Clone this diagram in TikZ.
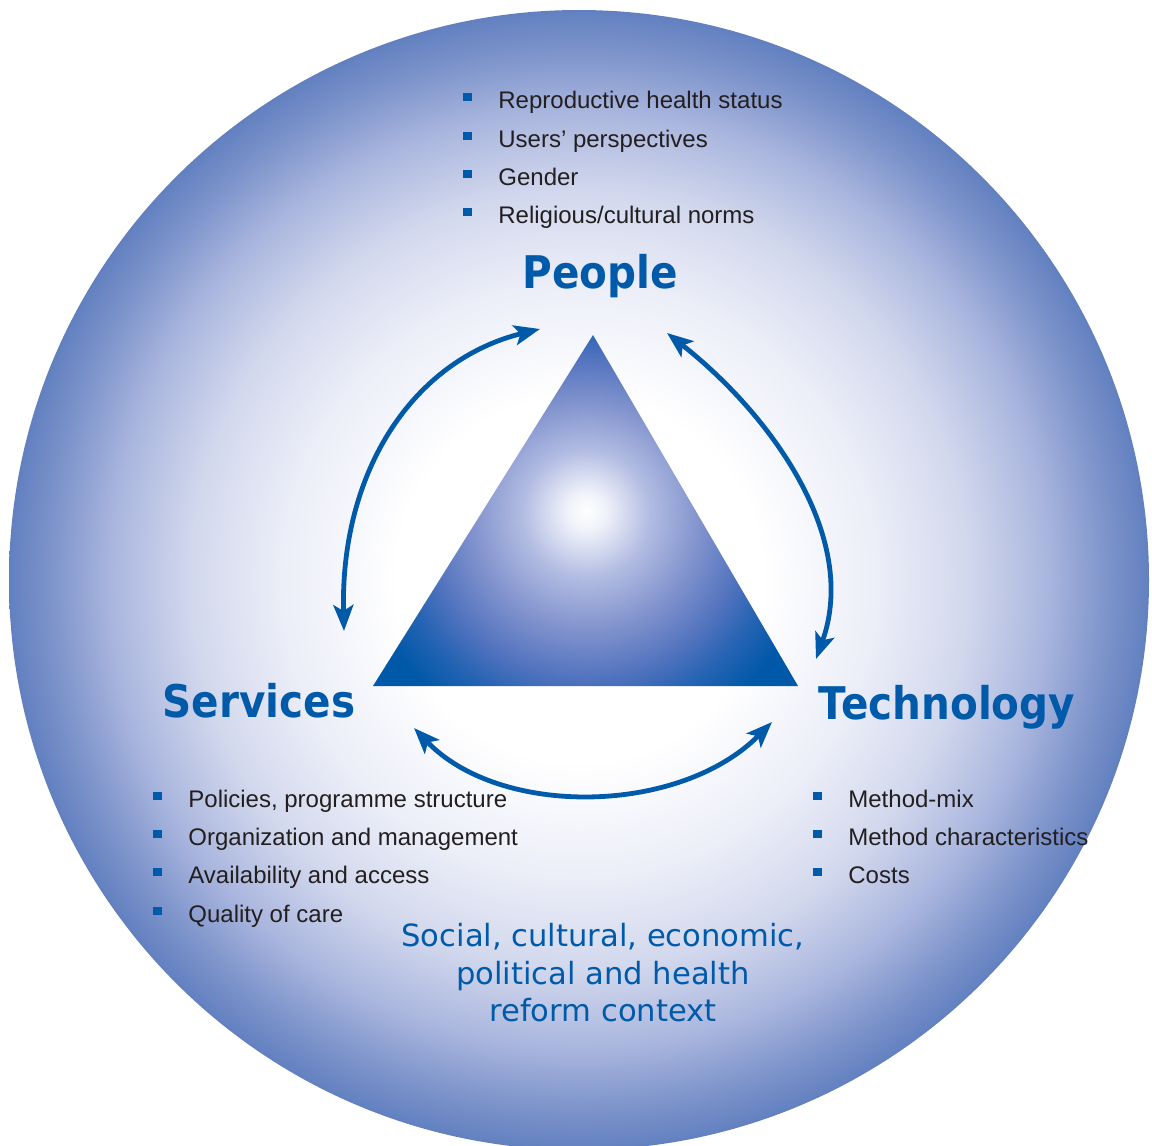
\documentclass[tikz,border=0pt]{standalone}
\usepackage{fontspec}
\setmainfont{Liberation Sans}
\newfontfamily\headfont[FakeStretch=0.9]{DejaVu Sans}
\newfontfamily\ctxfont{DejaVu Sans}
\usetikzlibrary{arrows.meta}

\definecolor{headblue}{RGB}{0,90,170}
\definecolor{itemgrey}{RGB}{35,31,32}
\definecolor{edgeblue}{RGB}{98,128,192}
\definecolor{ctxlight}{RGB}{236,238,248}
\definecolor{ctxpale}{RGB}{210,216,237}
\definecolor{ctxmid}{RGB}{170,182,222}
\definecolor{ctxdeep}{RGB}{128,150,204}
\definecolor{trilight}{RGB}{240,242,250}
\definecolor{tripale}{RGB}{178,188,226}
\definecolor{trimid}{RGB}{128,146,205}
\definecolor{trideep}{RGB}{82,115,190}
\definecolor{triring}{RGB}{40,100,180}
\definecolor{tridark}{RGB}{0,88,168}

\pgfdeclareradialshading{ctxshade}{\pgfpoint{0bp}{0bp}}{color(0bp)=(white); color(8bp)=(white); color(13bp)=(ctxlight); color(17bp)=(ctxpale); color(20.5bp)=(ctxmid); color(23bp)=(ctxdeep); color(25bp)=(edgeblue); color(50bp)=(edgeblue)}
\pgfdeclareradialshading{trishade}{\pgfpoint{0bp}{2.3bp}}{color(0bp)=(white); color(1.5bp)=(trilight); color(5bp)=(tripale); color(9bp)=(trimid); color(12.5bp)=(trideep); color(15bp)=(triring); color(18bp)=(tridark); color(25bp)=(tridark); color(50bp)=(tridark)}

% square bullet in front of list items
\newcommand{\sqb}{\llap{\textcolor{headblue}{\rule[3.3pt]{4.5pt}{4.3pt}}\hspace{13.3pt}}}

\begin{document}
\begin{tikzpicture}[x=0.5pt,y=-0.5pt]

	\tikzstyle{listitem} = [
		anchor=base west,
		inner sep=0pt,
		font=\fontsize{12}{14}\selectfont,
		text=itemgrey
	]
	\tikzstyle{heading} = [
		anchor=base,
		inner sep=0pt,
		font=\headfont\bfseries\fontsize{22.5}{27}\selectfont,
		text=headblue
	]
	\tikzstyle{ctxtext} = [
		align=center,
		inner sep=0pt,
		font=\ctxfont\fontsize{15.3}{18.75}\selectfont,
		text=headblue
	]
	\tikzstyle{linkarrow} = [
		draw=headblue,
		line width=2.4pt,
		{Stealth[length=13pt,width=10pt,inset=3pt]}-{Stealth[length=13pt,width=10pt,inset=3pt]}
	]

	\useasboundingbox (0,0) rectangle (1152,1146);

	% context circle
	\shade[shading=ctxshade] (579,580) circle (285pt);

	% triangle
	\coordinate (apex) at (593,335);
	\coordinate (baseleft) at (373,686);
	\coordinate (baseright) at (798,686);
	\begin{scope}
		\clip (apex) -- (baseleft) -- (baseright) -- cycle;
		\shade[shading=trishade] (586,540) circle (160pt);
	\end{scope}

	% headings
	\node (people) [style=heading] at (600,288) {People};
	\node (services) [style=heading] at (259,717) {Services};
	\node (technology) [style=heading] at (947,719) {Technology};

	% people
	\node (peop1) [style=listitem] at (498,108) {\sqb Reproductive health status};
	\node (peop2) [style=listitem] at (498,147) {\sqb Users’ perspectives};
	\node (peop3) [style=listitem] at (498,185) {\sqb Gender};
	\node (peop4) [style=listitem] at (498,223) {\sqb Religious/cultural norms};

	% services
	\node (serv1) [style=listitem] at (188,807) {\sqb Policies, programme structure};
	\node (serv2) [style=listitem] at (188,845) {\sqb Organization and management};
	\node (serv3) [style=listitem] at (188,883) {\sqb Availability and access};
	\node (serv4) [style=listitem] at (188,922) {\sqb Quality of care};

	% technology
	\node (tech1) [style=listitem] at (848,807) {\sqb Method-mix};
	\node (tech2) [style=listitem] at (848,845) {\sqb Method characteristics};
	\node (tech3) [style=listitem] at (848,883) {\sqb Costs};

	\node (ctx) [style=ctxtext] at (603,973) {Social, cultural, economic,\\political and health\\reform context};

	% links between the corners
	\coordinate (ps-s) at (344,631);
	\coordinate (ps-p) at (540,329);
	\coordinate (pt-p) at (667,333);
	\coordinate (pt-t) at (816,659);
	\coordinate (st-s) at (414,728);
	\coordinate (st-t) at (772,722);

	\draw [style=linkarrow] (ps-s) .. controls (340,470) and (414,360) .. (ps-p);
	\draw [style=linkarrow] (pt-p) .. controls (770,414) and (860,537) .. (pt-t);
	\draw [style=linkarrow] (st-s) .. controls (500,818) and (680,815) .. (st-t);

\end{tikzpicture}
\end{document}
